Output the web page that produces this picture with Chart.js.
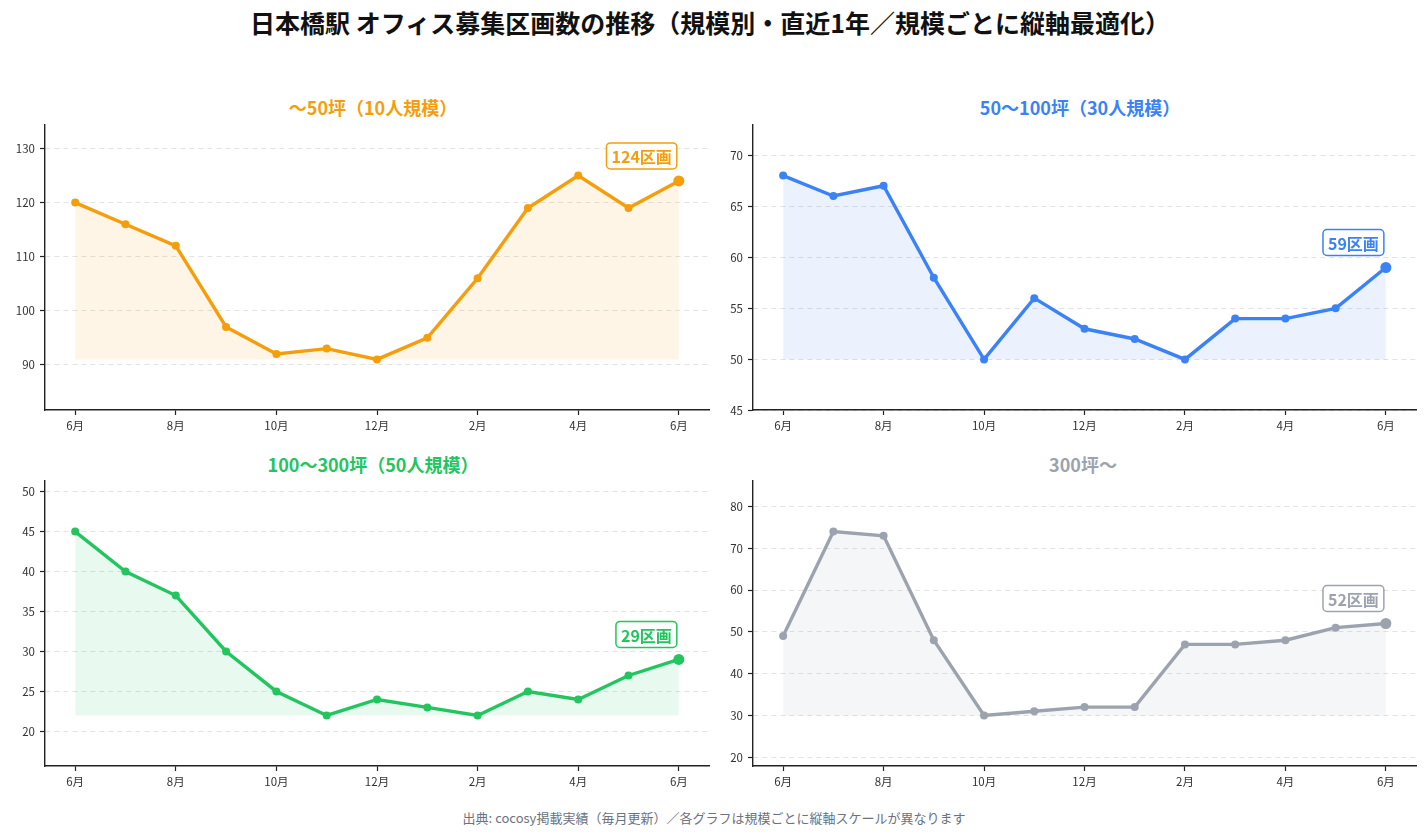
<!DOCTYPE html>
<html lang="ja">
<head>
<meta charset="utf-8">
<script src="https://cdn.jsdelivr.net/npm/chart.js@4/dist/chart.umd.min.js"></script>
<style>
  html,body{margin:0;padding:0;background:#fff;}
  body{width:1427px;height:836px;position:relative;overflow:hidden;font-family:"Noto Sans CJK JP","Noto Sans",sans-serif;}
  .t{position:absolute;white-space:nowrap;transform:translate(-50%,-50%);font-weight:700;}
  canvas{position:absolute;}
</style>
</head>
<body>
<div class="t" style="left:710px;top:22px;font-size:25px;color:#111;">日本橋駅 オフィス募集区画数の推移（規模別・直近1年／規模ごとに縦軸最適化）</div>
<div class="t" style="left:373px;top:107px;font-size:18px;color:#F59E0B;">～50坪（10人規模）</div>
<div class="t" style="left:1080px;top:107px;font-size:18px;color:#3B82F6;">50～100坪（30人規模）</div>
<div class="t" style="left:373px;top:464px;font-size:18px;color:#22C55E;">100～300坪（50人規模）</div>
<div class="t" style="left:1083px;top:464px;font-size:18px;color:#9CA3AF;">300坪～</div>
<div class="t" style="left:714px;top:817px;font-size:13px;font-weight:400;color:#6B7280;">出典: cocosy掲載実績（毎月更新）／各グラフは規模ごとに縦軸スケールが異なります</div>

<canvas id="c1" width="720" height="350" style="left:0px;top:90px;"></canvas>
<canvas id="c2" width="719" height="350" style="left:708px;top:90px;"></canvas>
<canvas id="c3" width="720" height="350" style="left:0px;top:446px;"></canvas>
<canvas id="c4" width="719" height="350" style="left:708px;top:446px;"></canvas>

<script>
// ---- data ----
const months = ["6月","7月","8月","9月","10月","11月","12月","1月","2月","3月","4月","5月","6月"];
const xTickIdx = [0,2,4,6,8,10,12];

const series1 = [120,116,112,97,92,93,91,95,106,119,125,119,124];
const series2 = [68,66,67,58,50,56,53,52,50,54,54,55,59];
const series3 = [45,40,37,30,25,22,24,23,22,25,24,27,29];
const series4 = [49,74,73,48,30,31,32,32,47,47,48,51,52];

const yTicks1 = [90,100,110,120,130];
const yTicks2 = [45,50,55,60,65,70];
const yTicks3 = [20,25,30,35,40,45,50];
const yTicks4 = [20,30,40,50,60,70,80];

const colors = ["#F59E0B","#3B82F6","#22C55E","#9CA3AF"];
const unit = "区画";

function hexA(hex,a){
  const n=parseInt(hex.slice(1),16);
  return `rgba(${(n>>16)&255},${(n>>8)&255},${n&255},${a})`;
}

const labelPlugin = {
  id:'lastLabel',
  afterDatasetsDraw(chart){
    const ds = chart.data.datasets[0];
    const meta = chart.getDatasetMeta(0);
    const last = meta.data[meta.data.length-1];
    const v = ds.data[ds.data.length-1].y;
    const ctx = chart.ctx;
    const txt = v + unit;
    ctx.save();
    ctx.font = "700 16px 'Noto Sans CJK JP'";
    const w = ctx.measureText(txt).width + 10;
    const h = 26;
    const right = last.x - 2;
    const cy = last.y - 25;
    const x0 = right - w, y0 = cy - h/2;
    ctx.beginPath();
    ctx.roundRect(x0,y0,w,h,4);
    ctx.fillStyle = "rgba(255,255,255,0.9)";
    ctx.fill();
    ctx.lineWidth = 1.5;
    ctx.strokeStyle = ds.borderColor;
    ctx.stroke();
    ctx.fillStyle = ds.borderColor;
    ctx.textAlign = "center";
    ctx.textBaseline = "middle";
    ctx.fillText(txt, x0 + w/2, cy+1);
    ctx.restore();
  }
};

function makeChart(id, values, yTicks, color){
  const span = Math.max(...values) - Math.min(...values);
  const pad = span * 0.275;
  const ymin = Math.min(...values) - pad;
  const ymax = Math.max(...values) + pad;
  const pts = values.map((v,i)=>({x:i,y:v}));
  const radii = values.map((v,i)=> i===values.length-1 ? 5.5 : 4);
  new Chart(document.getElementById(id), {
    type:'line',
    data:{datasets:[{
      data:pts,
      borderColor:color,
      backgroundColor:hexA(color,0.1),
      borderWidth:3.4,
      pointRadius:radii,
      pointBackgroundColor:color,
      pointBorderColor:color,
      pointBorderWidth:0,
      tension:0,
      fill:{value:Math.min(...values)}
    }]},
    options:{
      responsive:false,
      animation:false,
      devicePixelRatio:1,
      layout:{padding:{left:0,right:11,top:35,bottom:0}},
      plugins:{legend:{display:false},tooltip:{enabled:false},title:{display:false}},
      scales:{
        x:{
          type:'linear',
          min:-0.6,max:12.6,
          afterBuildTicks(s){ s.ticks = xTickIdx.map(v=>({value:v})); },
          afterFit(s){ s.height = 30; },
          ticks:{
            autoSkip:false, maxRotation:0, padding:4,
            color:'#333', font:{family:"Noto Sans CJK JP",size:11.5},
            callback:(v)=>months[v]
          },
          grid:{drawOnChartArea:false,tickLength:5,tickColor:'#222',tickWidth:1.2},
          border:{display:true,color:'#222',width:1.4}
        },
        y:{
          min:ymin,max:ymax,
          afterBuildTicks(s){ s.ticks = yTicks.map(v=>({value:v})); },
          afterFit(s){ s.width = 45; },
          ticks:{
            padding:5,color:'#333',font:{family:"Noto Sans CJK JP",size:11.5}
          },
          grid:{color:'#E2E2E2',lineWidth:1,tickLength:5,tickColor:'#222',tickWidth:1.2,tickBorderDash:[]},
          border:{display:true,color:'#222',width:1.4,dash:[5,4]}
        }
      }
    },
    plugins:[labelPlugin]
  });
}

makeChart('c1', series1, yTicks1, colors[0]);
makeChart('c2', series2, yTicks2, colors[1]);
makeChart('c3', series3, yTicks3, colors[2]);
makeChart('c4', series4, yTicks4, colors[3]);
</script>
</body>
</html>
